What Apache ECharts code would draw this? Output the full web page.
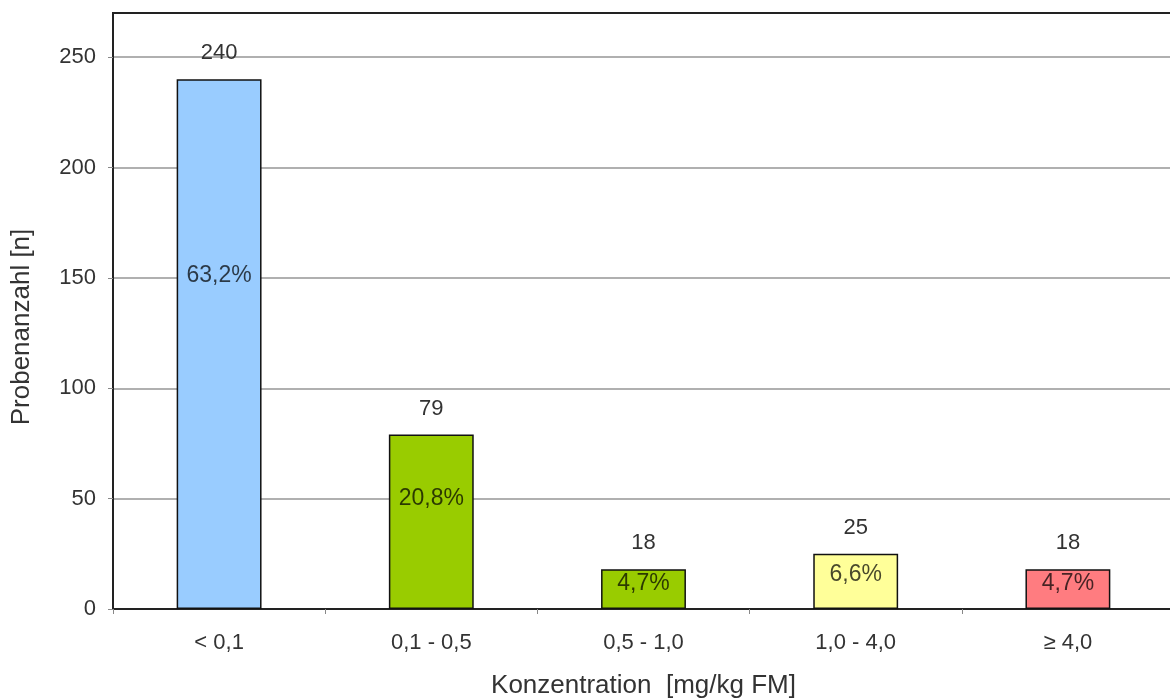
<!DOCTYPE html>
<html>
<head>
<meta charset="utf-8">
<title>Probenanzahl nach Konzentration</title>
<script src="https://cdn.jsdelivr.net/npm/echarts@6/dist/echarts.min.js"></script>
<style>
  html, body { margin: 0; padding: 0; background: #fff; }
  #chart { width: 1170px; height: 699px; }
</style>
</head>
<body>
<div id="chart"></div>
<script>
// Konzentrationsklassen und Probenanzahl je Klasse
const categories = ['< 0,1', '0,1 - 0,5', '0,5 - 1,0', '1,0 - 4,0', '\u2265 4,0'];
const counts = [240, 79, 18, 25, 18];
const barColors = ['#99CCFF', '#99CC00', '#99CC00', '#FFFF99', '#FF7C80'];
const yTicks = { min: 0, max: 270, interval: 50 };

const total = counts.reduce((a, b) => a + b, 0);
const pct = v => (v / total * 100).toFixed(1).replace('.', ',') + '%';

const font = '"Liberation Sans", Arial, sans-serif';

const chart = echarts.init(document.getElementById('chart'));
chart.setOption({
  animation: false,
  backgroundColor: '#fff',
  grid: {
    left: 113, top: 13, right: -4, bottom: 90,
    containLabel: false,
    outerBoundsMode: 'none',
    show: true, borderColor: '#222', borderWidth: 2, backgroundColor: 'transparent'
  },
  xAxis: {
    type: 'category',
    data: categories,
    axisLine: { lineStyle: { color: '#222', width: 2 } },
    axisTick: { show: true, length: 5, lineStyle: { color: '#888' } },
    axisLabel: { color: '#333', fontFamily: font, fontSize: 22, margin: 23 },
    name: 'Konzentration  [mg/kg FM]',
    nameLocation: 'middle',
    nameGap: 64,
    nameTextStyle: { color: '#333', fontFamily: font, fontSize: 26 }
  },
  yAxis: {
    type: 'value',
    min: yTicks.min, max: yTicks.max, interval: yTicks.interval,
    axisLine: { show: true, lineStyle: { color: '#222', width: 2 } },
    axisTick: { show: true, length: 5, lineStyle: { color: '#888' } },
    axisLabel: { color: '#333', fontFamily: font, fontSize: 22, margin: 17, showMaxLabel: false },
    splitLine: { showMinLine: false, showMaxLine: false, lineStyle: { color: '#b0b0b0', width: 2 } },
    name: 'Probenanzahl [n]',
    nameLocation: 'middle',
    nameRotate: 90,
    nameGap: 78,
    nameTextStyle: { color: '#333', fontFamily: font, fontSize: 26, padding: [0, 32, 0, 0] }
  },
  series: [
    {
      // Balken mit Anteil in Prozent
      type: 'bar',
      barWidth: '40%',
      barGap: '-100%',
      data: counts.map((v, i) => ({
        value: v,
        itemStyle: { color: barColors[i], borderColor: '#111', borderWidth: 1.5 }
      })),
      label: {
        show: true,
        position: ['50%', '37%'],
        align: 'center',
        verticalAlign: 'middle',
        formatter: p => pct(p.value),
        color: 'rgba(0,0,0,0.72)',
        fontFamily: font,
        fontSize: 23
      },
      z: 2
    },
    {
      // Probenanzahl über den Balken
      type: 'bar',
      barWidth: '40%',
      data: counts,
      itemStyle: { color: 'transparent', borderWidth: 0 },
      label: {
        show: true,
        position: 'top',
        distance: 15,
        color: '#333',
        fontFamily: font,
        fontSize: 22
      },
      silent: true,
      z: 3
    }
  ]
});
</script>
</body>
</html>
